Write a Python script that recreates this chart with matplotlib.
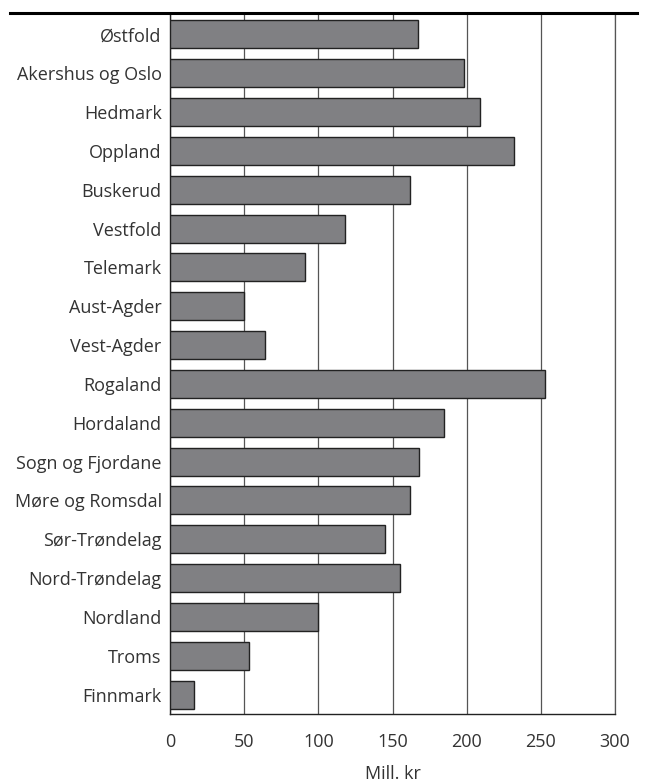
import numpy as np
import matplotlib.pyplot as plt
from matplotlib.lines import Line2D

plt.rcParams['font.family'] = ['Open Sans', 'DejaVu Sans']

# fylker og verdier (mill. kr)
fylker = ['Østfold', 'Akershus og Oslo', 'Hedmark', 'Oppland', 'Buskerud',
          'Vestfold', 'Telemark', 'Aust-Agder', 'Vest-Agder', 'Rogaland',
          'Hordaland', 'Sogn og Fjordane', 'Møre og Romsdal', 'Sør-Trøndelag',
          'Nord-Trøndelag', 'Nordland', 'Troms', 'Finnmark']
verdier = [167, 198, 209, 232, 162, 118, 91, 50, 64, 253,
           185, 168, 162, 145, 155, 100, 53, 16]
xticks = [0, 50, 100, 150, 200, 250, 300]

fig = plt.figure(figsize=(6.47, 7.82), dpi=100)
ax = fig.add_axes([170/647, 1 - 714/782, 445/647, 699/782])

y = np.arange(len(fylker))
ax.barh(y, verdier, height=0.72, color='#808083', edgecolor='#222222',
        linewidth=1.0, zorder=3)

ax.set_xlim(0, 300)
ax.set_ylim(len(fylker) - 0.5, -0.5)
ax.set_yticks(y)
ax.set_yticklabels(fylker, fontsize=13, color='#333333')
ax.set_xticks(xticks)
ax.set_xticklabels([str(t) for t in xticks], fontsize=13, color='#333333')
ax.tick_params(length=0)
ax.tick_params(axis='y', pad=6)
ax.tick_params(axis='x', pad=14)

ax.grid(axis='x', color='#555555', linewidth=0.9, zorder=0)
ax.spines['top'].set_visible(False)
ax.spines['right'].set_color('#555555')
ax.spines['right'].set_linewidth(0.9)
ax.spines['left'].set_color('#222222')
ax.spines['bottom'].set_color('#222222')
ax.spines['left'].set_linewidth(1.0)
ax.spines['bottom'].set_linewidth(1.0)

ax.set_xlabel('Mill. kr', fontsize=13, color='#333333', labelpad=10)

# tykk linje øverst
fig.add_artist(Line2D([10/647, 637/647], [1 - 13/782, 1 - 13/782],
                      transform=fig.transFigure, color='black', linewidth=2.2))

plt.savefig('out.png', dpi=100)
